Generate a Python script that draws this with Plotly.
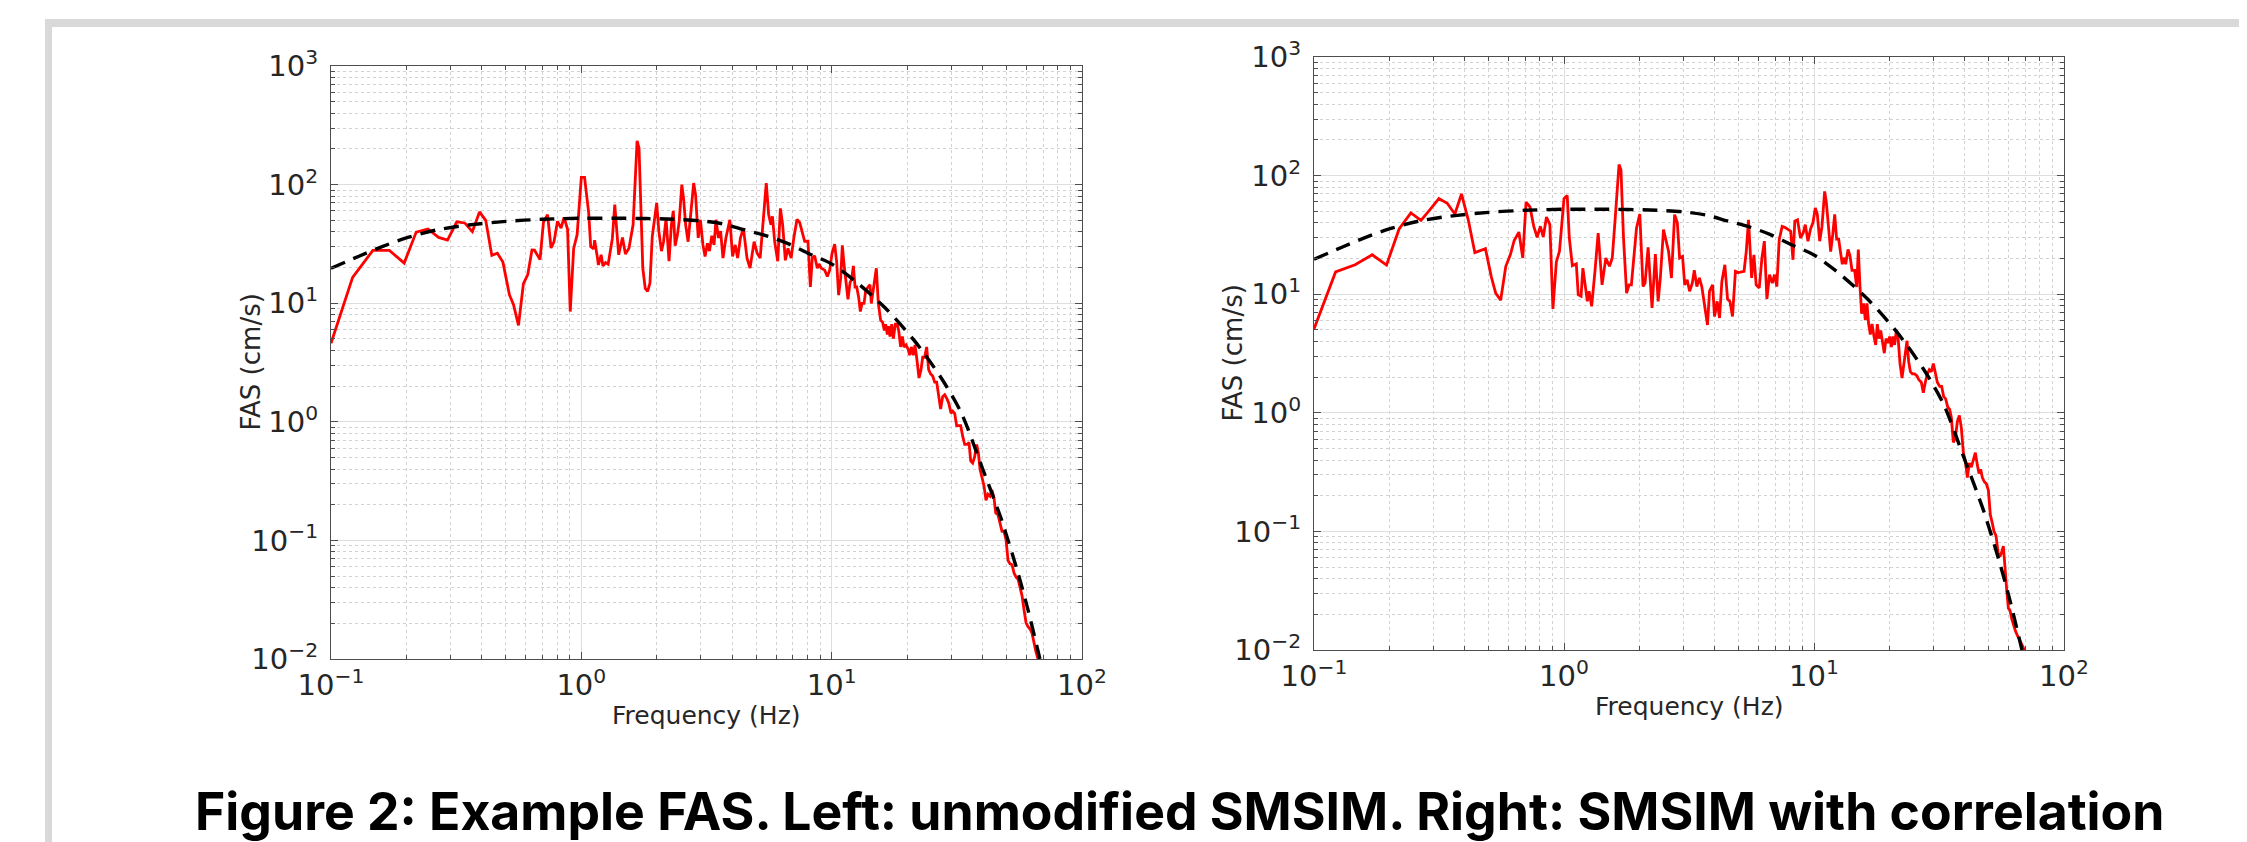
import plotly.graph_objects as go

# ---------------- data ----------------
left_freq = [0.1, 0.122, 0.147, 0.171, 0.196, 0.219, 0.244, 0.269, 0.292, 0.318, 0.342, 0.367, 0.392, 0.415,
             0.439, 0.462, 0.486, 0.516, 0.536, 0.561, 0.587, 0.611, 0.635, 0.65, 0.684, 0.706, 0.733, 0.757,
             0.778, 0.803, 0.83, 0.853, 0.881, 0.903, 0.932, 0.962, 1.0, 1.03, 1.07, 1.09, 1.12, 1.13, 1.16,
             1.17, 1.2, 1.22, 1.25, 1.28, 1.33, 1.36, 1.41, 1.46, 1.5, 1.55, 1.61, 1.67, 1.7, 1.76, 1.8, 1.84,
             1.88, 1.92, 2.0, 2.04, 2.09, 2.13, 2.18, 2.24, 2.29, 2.33, 2.37, 2.42, 2.46, 2.52, 2.56, 2.61,
             2.67, 2.73, 2.81, 2.86, 2.93, 2.99, 3.06, 3.12, 3.19, 3.25, 3.32, 3.39, 3.45, 3.53, 3.6, 3.68,
             3.78, 3.92, 4.02, 4.12, 4.21, 4.32, 4.44, 4.59, 4.72, 4.9, 5.04, 5.18, 5.32, 5.48, 5.6, 5.72,
             5.8, 5.92, 6.09, 6.24, 6.37, 6.53, 6.69, 6.89, 7.06,
             7.27, 7.45, 7.8, 8.04, 8.22, 8.37, 8.55, 8.76, 8.9, 9.09, 9.38, 9.61, 9.82, 10.03, 10.28, 10.47,
             10.66, 10.86, 11.03, 11.2, 11.41, 11.62, 11.84, 12.02, 12.21, 12.4, 12.59, 12.82, 13.02, 13.22,
             13.47, 13.67, 13.97, 14.23, 14.4, 14.67, 14.85, 15.08, 15.36, 15.69, 15.98, 16.23, 16.43, 16.69,
             16.89, 17.1, 17.37, 17.63, 17.96, 18.29, 18.52, 18.86, 19.16, 19.45, 19.81, 20.18, 20.49, 20.81,
             21.19, 21.52, 21.85, 22.33, 22.75, 23.1, 23.52, 23.96, 24.4, 24.86, 25.32, 25.79, 26.27, 26.75,
             27.25, 27.76, 28.28, 28.89, 29.34, 29.98, 30.44, 31.0, 31.57, 32.16, 32.76, 33.37, 33.99, 34.72,
             35.37, 35.92, 36.58, 37.26, 37.96, 38.54, 39.14, 39.86, 40.6, 41.36, 42.13, 42.91, 43.71, 44.53,
             45.21, 46.19, 47.05, 47.92, 48.82, 49.73, 50.65, 51.6, 52.55, 53.53, 54.53, 55.53, 56.57, 57.62,
             58.7, 59.78, 60.9, 62.0, 63.14, 64.32, 65.5, 66.7]
left_fas = [4.6, 16.5, 27.9, 27.9, 21.8, 39.8, 42.3, 35.9, 34.1, 48.6, 47.5, 40.1, 58.8, 50,
            25.3, 26.4, 22.2, 11.8, 9.7, 6.5, 14.6, 17.4, 28.1, 28, 23.3, 48.4, 55.7, 29.2,
            33, 49, 43, 53, 42, 8.5, 29, 37.8, 115, 115, 57.7, 30, 28.7, 34, 24,
            21, 25.6, 20.6, 22, 21.3, 35, 67.8, 25.6, 35.8, 26, 29, 46, 234, 204, 19.8, 13.3, 12.6,
            14.8, 36.4, 70, 40.5, 27.5, 33, 52, 22.6, 46, 60, 30.5, 37.7, 49, 100, 77, 46,
            33, 56, 103, 82, 35.5, 50.5, 31, 24.8, 32, 27.5, 37, 31, 50.5, 35.5, 40.5, 24,
            35.5, 50.5, 24.8, 31, 24, 35.5, 43, 24, 19.8, 33, 26.4, 24, 52, 103, 56, 46,
            54, 33, 22.6, 63, 46, 23, 29, 24, 35.5,
            51, 47.9, 33.3, 33.3, 13.7, 24.1, 25.1, 19.7, 21.4, 19.7, 19.0, 16.8, 19.0, 26.2, 31.5, 22.3,
            11.7, 16.1, 30.7, 21.4, 14.9, 10.8, 14.9, 16.1, 20.6, 13.7, 13.7, 11.2, 8.5, 9.95,
            9.95, 12.7, 13.7, 14.3, 9.95, 12.7, 15.5, 19.7, 9.95, 7.2, 6.9, 5.9, 6.65, 5.45,
            6.4, 5.23, 6.65, 5.02, 6.65, 6.65, 5.9, 4.28, 5.23, 4.28, 4.45, 4.11, 3.64, 4.28,
            3.64, 4.45, 3.5, 2.34, 2.75, 3.5, 3.5, 4.28, 2.75, 2.53, 2.43, 2.16, 2.16, 1.69,
            1.28, 1.63, 1.69, 1.56, 1.44, 1.18, 1.23, 1.18, 0.927, 0.927, 0.927, 0.757, 0.644, 0.644,
            0.671, 0.468, 0.449, 0.507, 0.644, 0.55, 0.398, 0.339, 0.288, 0.218, 0.245, 0.236, 0.266, 0.226,
            0.171, 0.164, 0.14, 0.119, 0.119, 0.101, 0.0676, 0.0634, 0.0624, 0.0531, 0.049, 0.0471, 0.0401, 0.0341,
            0.0258, 0.0202, 0.0187, 0.0179, 0.0165, 0.0135, 0.0115, 0.01]

right_freq = [0.1, 0.122, 0.146, 0.171, 0.195, 0.219, 0.244, 0.268, 0.291, 0.316, 0.341, 0.366, 0.389, 0.414,
              0.44, 0.485, 0.512, 0.533, 0.558, 0.585, 0.61, 0.632, 0.66, 0.684, 0.705, 0.731, 0.757, 0.781,
              0.804, 0.826, 0.851, 0.878, 0.903, 0.932, 0.959, 1.0, 1.03, 1.05, 1.08, 1.12, 1.14, 1.17, 1.19,
              1.24, 1.26, 1.29, 1.33, 1.37, 1.42, 1.47, 1.52, 1.56, 1.61, 1.66, 1.69, 1.73, 1.78, 1.82, 1.86,
              1.91, 1.95, 2.01, 2.07, 2.11, 2.17, 2.25, 2.32, 2.38, 2.43, 2.5, 2.62, 2.69, 2.77, 2.84, 2.9,
              2.98, 3.04, 3.11, 3.18, 3.26, 3.32, 3.4, 3.48, 3.56, 3.63, 3.75, 3.82, 3.93, 4.0, 4.1, 4.19,
              4.28, 4.4, 4.51, 4.61, 4.72, 4.85, 4.98, 5.25, 5.36, 5.47, 5.63, 5.75, 5.87, 6.04, 6.19, 6.33,
              6.48, 6.64, 6.81, 6.95, 7.1, 7.26, 7.46, 7.67, 8.07, 8.24, 8.38, 8.59, 8.83, 9.05,
              9.23, 9.46, 9.69, 9.91, 10.12, 10.31, 10.54, 10.76, 11.03, 11.2, 11.45, 11.66, 11.88, 12.1,
              12.32, 12.55, 12.79, 12.98, 13.18, 13.39, 13.68, 13.93, 14.19, 14.54, 14.82, 15.04, 15.28, 15.51,
              15.8, 16.04, 16.29, 16.54, 16.8, 17.06, 17.38, 17.65, 17.92, 18.2, 18.48, 18.82, 19.11, 19.41,
              19.77, 20.08, 20.39, 20.7, 21.02, 21.35, 21.68, 22.08, 22.49, 22.84, 23.19, 23.55, 23.91, 24.29,
              24.74, 25.28, 25.82, 26.3, 26.87, 27.37, 27.88, 28.4, 28.93, 29.47, 30.02, 30.58, 31.14, 31.82,
              32.41, 33.01, 33.63, 34.25, 34.89, 35.43, 36.09, 36.76, 37.45, 38.14, 38.85, 39.58, 40.31, 41.06,
              41.83, 42.6, 43.4, 44.2, 45.03, 45.71, 46.42, 47.13, 48.01, 48.9, 49.81, 50.74, 51.68, 52.48,
              53.46, 54.45, 55.46, 56.32, 57.2, 58.08, 58.98, 59.9, 60.81, 61.76, 62.91, 63.89, 65.07, 66.28,
              67.51, 68.97, 70.03]
right_fas = [5.1, 15.4, 17.7, 21.5, 17.6, 35.5, 48.4, 42, 51.6, 64, 58.4, 47.4, 70, 42.4,
             22.4, 24.2, 14, 10.2, 8.9, 17.2, 21.5, 28.4, 33.4, 20.2, 59.6, 54.4, 37.3, 30.2,
             37.3, 30.4, 44.8, 38.6, 7.5, 18.7, 23, 64, 67.8, 29.8, 17.4, 18, 9.9, 9.6, 16.6,
             8.7, 10.6, 7.9, 15.6, 32.8, 12, 20.2, 17.2, 20.2, 50, 124, 112, 29.8, 10.2, 12, 12,
             21.5, 36.1, 47.4, 11.6, 12.4, 24.8, 7.65, 21.8, 8.7, 13.9, 35, 22.9, 13.7, 46.9, 40, 20.2,
             20.8, 12, 13.2, 10.6, 12.4, 15.9, 11.6, 13.7, 11.5, 8.7, 5.5, 10.6, 12, 6.5, 8.7, 6.3,
             12.8, 17.7, 9.1, 8.7, 6.5, 15.6, 15.2, 15.6, 23, 42.4, 13.7, 21.5, 12, 11.3, 20.2, 28,
             9.1, 14.6, 12.4, 14.6, 11.6, 29, 37.3, 36.5, 34, 19.5, 41.3, 42.4, 29.8, 32.8,
             38.6, 28, 35.6, 40.2, 53.3, 47.2, 28, 37.1, 73.6, 60.1, 34.2, 22.9, 31.6, 47.2,
             29.1, 29.1, 22, 17.9, 20.3, 17.9, 23.8, 21.1, 15.9, 15.9, 11.5, 23.8, 11.5, 6.84,
             8.36, 6.05, 8.36, 5.6, 4.57, 5.6, 4.4, 3.74, 5.6, 4.22, 4.95, 4.05, 3.18, 4.22,
             3.89, 4.4, 3.59, 4.4, 3.74, 4.95, 4.4, 2.6, 1.96, 2.5, 3.31, 4.05, 2.71, 2.22,
             2.13, 2.13, 2.05, 1.89, 1.81, 1.48, 1.81, 2.13, 2.31, 2.22, 2.6, 2.13, 1.81, 1.67,
             1.67, 1.37, 1.31, 1.12, 1.07, 0.914, 0.564, 0.611, 0.843, 0.951, 0.746, 0.461, 0.393, 0.284,
             0.377, 0.348, 0.393, 0.461, 0.362, 0.308, 0.334, 0.284, 0.262, 0.252, 0.223, 0.138, 0.117, 0.0998,
             0.092, 0.0667, 0.0615, 0.0667, 0.0753, 0.0447, 0.0324, 0.0225, 0.0216, 0.0184, 0.0157, 0.0145, 0.0133, 0.0123,
             0.0114, 0.0103, 0.01]

model_freq = [0.1, 0.13, 0.16, 0.2, 0.265, 0.35, 0.5, 0.7, 1.0, 1.5, 2.2, 3.0, 3.7, 4.5, 5.5, 6.7, 8.0,
              10.0, 12.35, 16.3, 21.4, 27.4, 33.0, 39.6, 47.6, 55.5, 60.9, 67.9]
model_fas = [19.7, 25, 30, 35.5, 41.5, 45.5, 49, 51, 52, 52, 51.3, 49.5, 46.5, 41.5, 37, 31.8, 26.5,
             21.4, 15.5, 9.2, 4.83, 2.34, 1.18, 0.43, 0.151, 0.053, 0.0258, 0.01]

x_tickvals = [0.1, 1, 10, 100]
x_ticktext = ["10<sup>−1</sup>", "10<sup>0</sup>", "10<sup>1</sup>", "10<sup>2</sup>"]
y_tickvals = [0.01, 0.1, 1, 10, 100, 1000]
y_ticktext = ["10<sup>−2</sup>", "10<sup>−1</sup>", "10<sup>0</sup>", "10<sup>1</sup>", "10<sup>2</sup>", "10<sup>3</sup>"]

caption = "Figure 2: Example FAS. Left: unmodified SMSIM. Right: SMSIM with correlation"
x_title = "Frequency (Hz)"
y_title = "FAS (cm/s)"

# ---------------- figure ----------------
W, H = 2247, 842
fig = go.Figure()

for i, (fx, fy) in enumerate([(left_freq, left_fas), (right_freq, right_fas)]):
    xa = "x" if i == 0 else "x2"
    ya = "y" if i == 0 else "y2"
    fig.add_trace(go.Scatter(x=fx, y=fy, mode="lines", xaxis=xa, yaxis=ya,
                             line=dict(color="#ff0000", width=2.8), showlegend=False))
    fig.add_trace(go.Scatter(x=model_freq, y=model_fas, mode="lines", xaxis=xa, yaxis=ya,
                             line=dict(color="#000000", width=3.4, dash="15px,9px", shape="spline", smoothing=0.8),
                             showlegend=False))

minor_vals = [m * 10 ** e for e in (-2, -1, 0, 1, 2) for m in range(2, 10)]
axis_col = "#4d4d4d"
tick_font = dict(family="DejaVu Sans", size=29, color="#262626")

def common(domain, anchor):
    return dict(type="log", domain=domain, anchor=anchor, tickmode="array",
                ticks="inside", ticklen=7, tickwidth=1, tickcolor=axis_col,
                showline=True, linecolor=axis_col, linewidth=1.2, mirror="ticks",
                showgrid=True, gridcolor="#dedede", gridwidth=1,
                minor=dict(tickmode="array", tickvals=minor_vals, ticks="inside", ticklen=3.5,
                           tickcolor=axis_col, showgrid=True, gridcolor="#d2d2d2", griddash="dot", gridwidth=1),
                tickfont=tick_font, automargin=False, zeroline=False)

def xaxis_cfg(domain, anchor):
    d = common(domain, anchor)
    d.update(range=[-1, 2], tickvals=x_tickvals, ticktext=x_ticktext, ticklabelstandoff=0)
    return d

def yaxis_cfg(domain, anchor):
    d = common(domain, anchor)
    d.update(range=[-2, 3], tickvals=y_tickvals, ticktext=y_ticktext, ticklabelstandoff=6)
    return d

L = dict(x0=323, x1=1074, y0=58, y1=651)
R = dict(x0=1306, x1=2056, y0=49, y1=642)

def xd(p):
    return [p["x0"] / W, p["x1"] / W]

def yd(p):
    return [1 - p["y1"] / H, 1 - p["y0"] / H]

fig.update_layout(
    width=W, height=H, margin=dict(l=0, r=0, t=0, b=0),
    paper_bgcolor="white", plot_bgcolor="white",
    xaxis=xaxis_cfg(xd(L), "y"), yaxis=yaxis_cfg(yd(L), "x"),
    xaxis2=xaxis_cfg(xd(R), "y2"), yaxis2=yaxis_cfg(yd(R), "x2"),
)

title_font = dict(family="DejaVu Sans", size=25, color="#262626")
ytitle_font = dict(family="DejaVu Sans", size=26, color="#262626")
ann = []
for p, ytx in ((L, 242), (R, 1224)):
    ann.append(dict(text=x_title, x=(p["x0"] + p["x1"]) / 2 / W, y=1 - (p["y1"] + 56) / H,
                    xref="paper", yref="paper", showarrow=False, xanchor="center", yanchor="middle",
                    font=title_font))
    ann.append(dict(text=y_title, x=ytx / W, y=1 - (p["y0"] + p["y1"]) / 2 / H,
                    xref="paper", yref="paper", showarrow=False, xanchor="center", yanchor="middle",
                    textangle=-90, font=ytitle_font))
ann.append(dict(text="<b>" + caption + "</b>", x=1172 / W, y=1 - 803 / H, xref="paper", yref="paper",
                showarrow=False, xanchor="center", yanchor="middle",
                font=dict(family="Inter", size=51.7, color="#000000")))
fig.update_layout(annotations=ann)

frame_col = "#d9d9d9"
fig.update_layout(shapes=[
    dict(type="rect", xref="paper", yref="paper", x0=37 / W, x1=1, y0=1 - 19 / H, y1=1 - 11 / H,
         fillcolor=frame_col, line=dict(width=0), layer="below"),
    dict(type="rect", xref="paper", yref="paper", x0=37 / W, x1=44 / W, y0=0, y1=1 - 11 / H,
         fillcolor=frame_col, line=dict(width=0), layer="below"),
])

fig.write_html("out.html")
